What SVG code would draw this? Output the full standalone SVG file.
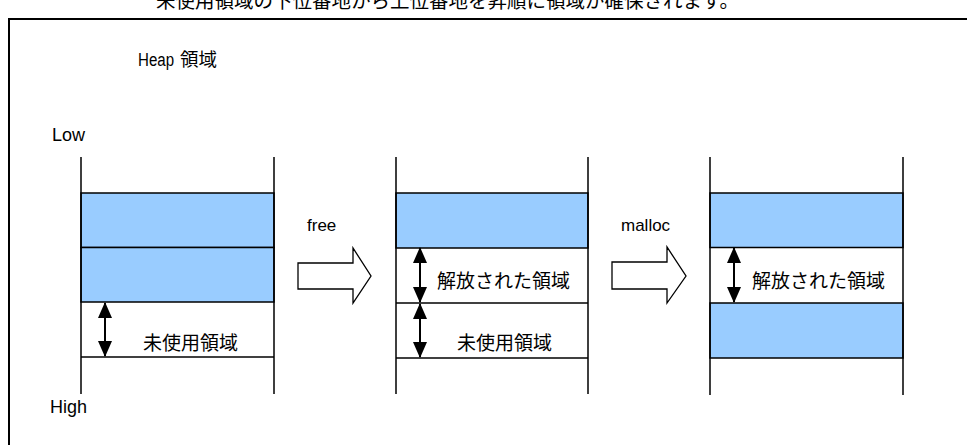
<svg xmlns="http://www.w3.org/2000/svg" width="967" height="445" viewBox="0 0 967 445">
<style>
.t{font-family:"Liberation Sans","Noto Sans CJK JP",sans-serif;fill:#000}
.j{font-family:"Noto Sans CJK JP","Liberation Sans",sans-serif;fill:#000;font-size:19px}
.blue{fill:#99CCFF;stroke:#000;stroke-width:1.5}
.wall{stroke:#000;stroke-width:1.5;fill:none}
.row{stroke:#000;stroke-width:1.5}
.dbl{stroke:#000;stroke-width:2;marker-start:url(#ah);marker-end:url(#ah)}
.blk{fill:#fff;stroke:#000;stroke-width:1.3}
</style>
<defs>
<marker id="ah" viewBox="0 0 16 14" refX="15" refY="7" markerWidth="16" markerHeight="14" markerUnits="userSpaceOnUse" orient="auto-start-reverse">
<path d="M0,0 L16,7 L0,14 Z" fill="#000"/>
</marker>
</defs>
<rect width="967" height="445" fill="#fff"/>
<text class="j" x="156" y="8" style="font-size:19.5px">未使用領域の下位番地から上位番地を昇順に領域が確保されます。</text>
<rect x="9" y="19" width="990" height="460" fill="none" stroke="#000" stroke-width="2"/>
<g id="title">
<text class="t" x="138" y="66" font-size="18" textLength="36" lengthAdjust="spacingAndGlyphs">Heap</text>
<text class="j" x="180" y="66" style="font-size:18.5px">領域</text>
</g>
<g id="low"><text class="t" x="52" y="141" font-size="18">Low</text></g>
<g id="high"><text class="t" x="50" y="413" font-size="18">High</text></g>
<g id="col1">
<rect class="blue" x="81" y="193" width="193" height="54.5"/>
<rect class="blue" x="81" y="247.5" width="193" height="54.5"/>
<line class="row" x1="81" y1="357" x2="274" y2="357"/>
<path class="wall" d="M81,157 V394 M274,157 V394"/>
<text class="j" x="143" y="350">未使用領域</text>
</g>
<g id="col2">
<rect class="blue" x="396" y="193" width="192" height="55"/>
<line class="row" x1="396" y1="303" x2="588" y2="303"/>
<line class="row" x1="396" y1="358" x2="588" y2="358"/>
<path class="wall" d="M396,157 V394 M588,157 V394"/>
<text class="j" x="437" y="288">解放された領域</text>
<text class="j" x="457" y="350">未使用領域</text>
</g>
<g id="col3">
<rect class="blue" x="710" y="193" width="193" height="54.5"/>
<rect class="blue" x="710" y="303" width="193" height="55"/>
<path class="wall" d="M710,157 V395 M903,157 V395"/>
<text class="j" x="752" y="288">解放された領域</text>
</g>
<g id="free-op">
<text class="t" x="307" y="231" font-size="17">free</text>
</g>
<g id="malloc-op">
<text class="t" x="621" y="231" font-size="17">malloc</text>
</g>
<g id="connectors">
<path class="blk" d="M298,263 H353 V248 L371,276 L353,303 V289 H298 Z"/>
<path class="blk" d="M612,262 H667 V247 L686,276 L667,303 V289 H612 Z"/>
<line class="dbl" x1="105" y1="303" x2="105" y2="356"/>
<line class="dbl" x1="420" y1="248" x2="420" y2="302"/>
<line class="dbl" x1="420" y1="304" x2="420" y2="357"/>
<line class="dbl" x1="734" y1="248" x2="734" y2="302"/>
</g>
</svg>
